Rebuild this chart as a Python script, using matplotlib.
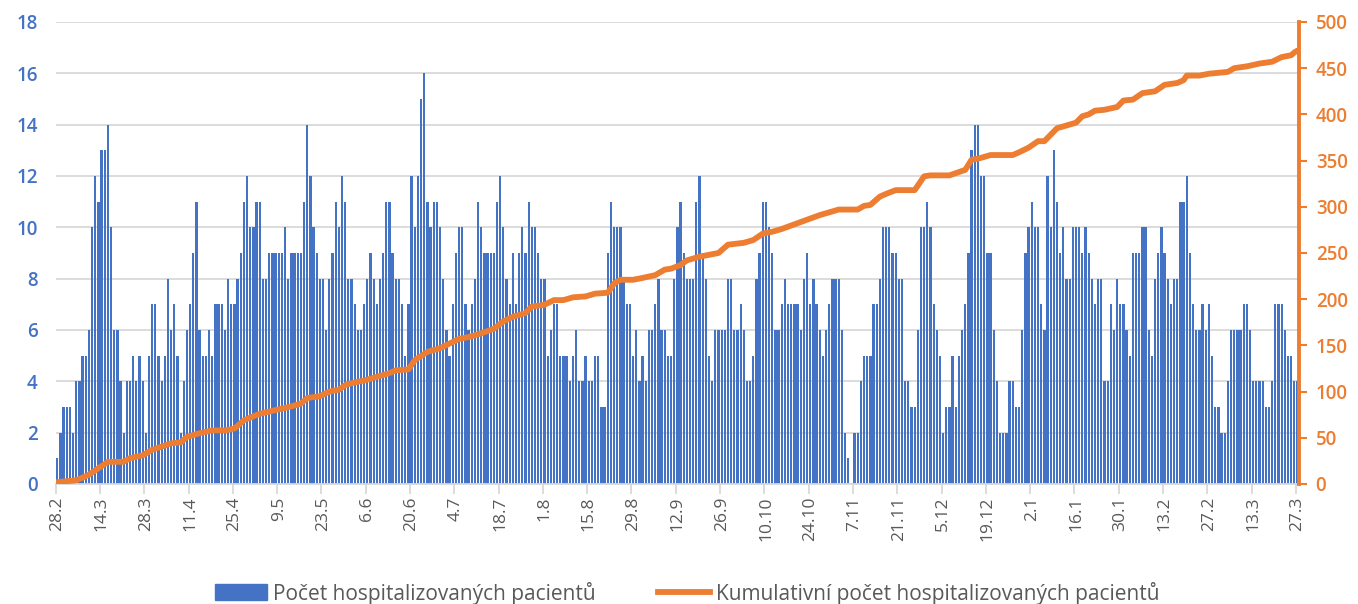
import matplotlib
matplotlib.use("Agg")
import matplotlib.pyplot as plt
from matplotlib.lines import Line2D
from matplotlib.patches import Patch
import pandas as pd

# Denní počty (28.2. - 27.3.)
start_date = "2021-02-28"
pocet = [
    1, 2, 3, 3, 3, 2, 4, 4, 5, 5, 6, 10, 12, 11, 13, 13, 14, 10, 6, 6, 4, 2, 4, 4, 5, 4, 5, 4, 2, 5, 7, 7,
    5, 4, 5, 8, 6, 7, 5, 2, 4, 6, 7, 9, 11, 6, 5, 5, 6, 5, 7, 7, 7, 6, 8, 7, 7, 8, 9, 11, 12, 10, 10, 11, 11,
    8, 8, 9, 9, 9, 9, 9, 10, 8, 9, 9, 9, 9, 11, 14, 12, 10, 9, 8, 8, 6, 8, 9, 11, 10, 12, 11, 8, 8, 7, 6, 6, 7,
    8, 9, 8, 7, 8, 9, 11, 11, 9, 8, 8, 7, 5, 7, 12, 10, 12, 15, 16, 11, 10, 11, 11, 10, 8, 6, 5, 7, 9, 10, 10, 7, 6,
    7, 8, 11, 10, 9, 9, 9, 9, 11, 12, 10, 8, 7, 9, 7, 9, 10, 9, 11, 10, 10, 9, 8, 8, 5, 6, 7, 7, 5, 5, 5, 4, 5,
    6, 4, 4, 5, 4, 4, 5, 5, 3, 3, 9, 11, 10, 10, 10, 8, 7, 7, 5, 6, 4, 5, 4, 6, 6, 7, 8, 6, 6, 5, 5, 8, 10,
    11, 9, 8, 8, 8, 11, 12, 9, 8, 5, 4, 6, 6, 6, 6, 8, 8, 6, 6, 7, 6, 4, 4, 5, 8, 9, 11, 11, 10, 9, 6, 6, 7,
    8, 7, 7, 7, 7, 6, 8, 9, 7, 8, 7, 6, 5, 6, 7, 8, 8, 8, 6, 2, 1, 0, 2, 2, 4, 5, 5, 5, 7, 7, 8, 10, 10,
    10, 9, 9, 8, 8, 4, 4, 3, 3, 6, 10, 10, 11, 10, 7, 6, 5, 2, 3, 3, 5, 3, 5, 6, 7, 9, 13, 14, 14, 12, 12, 9, 9, 6,
    4, 2, 2, 2, 4, 4, 3, 3, 6, 9, 10, 11, 10, 10, 7, 6, 12, 10, 13, 11, 9, 10, 8, 8, 10, 10, 10, 9, 10, 9, 8,
    7, 8, 8, 4, 4, 7, 6, 8, 7, 7, 6, 5, 9, 9, 9, 10, 10, 6, 5, 8, 9, 10, 9, 8, 7, 8, 8, 11, 11, 12, 9, 7, 6,
    6, 7, 6, 7, 5, 3, 3, 2, 2, 4, 6, 6, 6, 6, 7, 7, 6, 4, 4, 4, 4, 3, 3, 4, 7, 7, 7, 6, 5, 5, 4, 4,
]

# Kumulativní počet - odečteno v jednotlivých dnech (index dne)
kum_den = [0, 6, 10, 13, 16, 21, 23, 27, 30, 36, 39, 41, 45, 49, 53, 56, 59, 64, 69, 74, 77, 79, 83, 86,
           89, 91, 94, 97, 101, 105, 107, 111, 113, 117, 121, 124, 127, 130, 134, 138, 141, 144, 148, 150,
           154, 157, 160, 163, 167, 170, 174, 176, 178, 182, 185, 189, 192, 194, 197, 199, 203, 206, 209,
           212, 217, 220, 223, 226, 229, 233, 237, 241, 244, 247, 253, 255, 257, 260, 262, 265, 267, 271,
           274, 276, 282, 287, 289, 291, 293, 295, 302, 304, 307, 310, 312, 316, 318, 322, 324, 326, 328,
           331, 335, 337, 340, 343, 347, 350, 354, 356, 357, 361, 364, 370, 372, 376, 380, 384, 387, 390,
           391, 392]
kum_hodnota = [2, 4, 10, 17, 24, 24, 28, 31, 37, 44, 45, 51, 55, 58, 58, 60, 69, 76, 80, 84, 87, 93, 95, 100,
               102, 107, 110, 112, 116, 120, 123, 124, 134, 143, 147, 152, 157, 159, 163, 168, 176, 181, 185,
               192, 194, 199, 199, 202, 203, 206, 207, 217, 221, 221, 223, 226, 232, 233, 237, 242, 246, 248,
               250, 259, 261, 264, 271, 273, 276, 281, 286, 291, 294, 297, 297, 301, 302, 311, 314, 318, 318,
               318, 333, 334, 334, 340, 351, 352, 354, 356, 356, 359, 364, 371, 371, 385, 387, 391, 398, 400,
               404, 405, 408, 415, 416, 423, 425, 432, 434, 437, 442, 442, 444, 446, 450, 452, 455, 457, 462,
               464, 467, 469]

dny = pd.date_range(start_date, periods=len(pocet), freq="D")
popisky = [f"{d.day}.{d.month}" for d in dny]
x = list(range(len(pocet)))

modra = "#4472C4"
oranzova = "#ED7D31"
seda = "#595959"
mrizka = "#D9D9D9"

plt.rcParams["font.family"] = ["Open Sans", "DejaVu Sans"]

fig = plt.figure(figsize=(13.58, 6.04), dpi=100)
ax = fig.add_axes([0.041, 0.1987, 0.9156, 0.7649])
ax2 = ax.twinx()

ax.bar(x, pocet, width=0.72, color=modra, zorder=2)
ax.set_xlim(-0.5, len(pocet) - 0.5)
ax.set_ylim(0, 18)
ax.set_yticks(range(0, 19, 2))
ax.grid(axis="y", color=mrizka, linewidth=1.3, zorder=0)
ax.set_axisbelow(True)
ax.tick_params(axis="y", length=0, labelcolor=modra, labelsize=13.5, pad=13)
for t in ax.get_yticklabels():
    t.set_fontweight("semibold")

# popisky osy x po 14 dnech, čárky mezi kategoriemi
ax.set_xticks(x[::14])
ax.set_xticklabels(popisky[::14], rotation=90, color=seda, fontsize=12.5)
ax.tick_params(axis="x", length=0, pad=9)
ax.set_xticks([i - 0.5 for i in x[::14]], minor=True)
ax.tick_params(axis="x", which="minor", length=7, color=mrizka, width=1.3)

for s in ["top", "left", "right"]:
    ax.spines[s].set_visible(False)
ax.spines["bottom"].set_color(mrizka)
ax.spines["bottom"].set_linewidth(1.3)

ax2.plot(kum_den, kum_hodnota, color=oranzova, linewidth=4.2, solid_capstyle="round",
         solid_joinstyle="round", zorder=3)
ax2.set_ylim(0, 500)
ax2.set_yticks(range(0, 501, 50))
ax2.tick_params(axis="y", color=oranzova, length=6, width=1.5, labelcolor=oranzova,
                labelsize=13.5, pad=6)
for t in ax2.get_yticklabels():
    t.set_fontweight("semibold")
for s in ["top", "left", "bottom"]:
    ax2.spines[s].set_visible(False)
ax2.spines["right"].set_color(oranzova)
ax2.spines["right"].set_linewidth(2.8)

handles = [Patch(color=modra), Line2D([0], [0], color=oranzova, linewidth=4.2)]
fig.legend(handles, ["Počet hospitalizovaných pacientů", "Kumulativní počet hospitalizovaných pacientů"],
           loc="center", bbox_to_anchor=(0.506, 0.018), ncol=2, frameon=False, fontsize=15,
           labelcolor=seda, handlelength=2.5, handleheight=0.8, columnspacing=3.0, handletextpad=0.3)

fig.savefig("out.png", dpi=100)
